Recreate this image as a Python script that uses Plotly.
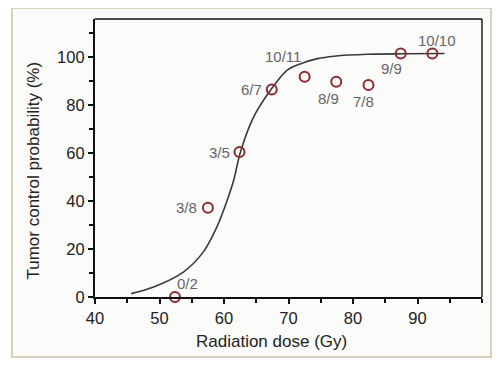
import plotly.graph_objects as go

# observed data points
dose = [52.4, 57.5, 62.4, 67.4, 72.5, 77.4, 82.4, 87.4, 92.3]
tcp = [0, 37.2, 60.4, 86.4, 91.7, 89.7, 88.3, 101.4, 101.4]
labels = ["0/2", "3/8", "3/5", "6/7", "10/11", "8/9", "7/8", "9/9", "10/10"]

# fitted curve
curve_dose = [45.6, 49.1, 53.7, 56.8, 58.9, 60.5, 61.5, 62.55, 64.6, 67.2, 69.8, 71.9, 74.5, 77.1, 82.3, 88.0, 94.2]
curve_tcp = [1.4, 4.2, 10.4, 18.8, 29.2, 40.3, 48.6, 60.4, 75.0, 86.1, 94.5, 97.2, 99.3, 100.3, 101.1, 101.3, 101.4]

x_ticks = [40, 50, 60, 70, 80, 90]
y_ticks = [0, 20, 40, 60, 80, 100]

# label pixel offsets (style): dx right, dy up
label_dx = [13, -21, -20, -20, -22, -8, -5, -9, 5]
label_dy = [14, 0, 0, 0, 20, -17, -16, -15, 13]

FONT = "Liberation Sans, Arial, sans-serif"
RED = "#8c2a2e"

# page has an 8px body margin; work in page pixels and shift
OFF = 8
W, H = 500 - OFF, 368 - OFF
L, R, T, B = 95, 482, 19, 297  # page pixel plot area
def px(xp):
    return (xp - L) / (R - L)
def py(yp):
    return (B - yp) / (B - T)

fig = go.Figure()
fig.add_trace(go.Scatter(x=curve_dose, y=curve_tcp, mode="lines",
                         line=dict(color="#3a3a3a", width=1.6, shape="spline", smoothing=0.8),
                         hoverinfo="skip", showlegend=False))
fig.add_trace(go.Scatter(x=dose, y=tcp, mode="markers",
                         marker=dict(symbol="circle-open", size=10, color=RED,
                                     line=dict(color=RED, width=2)),
                         cliponaxis=False, showlegend=False))

shapes = [
    dict(type="rect", xref="paper", yref="paper", x0=px(12), x1=px(491), y0=py(357), y1=py(8),
         line=dict(color="#d8d0b9", width=2), fillcolor="#fbfbf9", layer="below"),
    dict(type="line", xref="paper", yref="paper", x0=0, x1=1, y0=1, y1=1,
         line=dict(color="#111111", width=1.4)),
    dict(type="line", xref="paper", yref="paper", x0=1, x1=1, y0=0, y1=1,
         line=dict(color="#111111", width=1.4)),
]

annotations = [
    dict(text="Radiation dose (Gy)", xref="paper", yref="paper", x=px(271.5), y=py(341),
         showarrow=False, font=dict(size=17, color="#222222"), xanchor="center", yanchor="middle"),
    dict(text="Tumor control probability (%)", xref="paper", yref="paper", x=px(33.5), y=py(171),
         showarrow=False, textangle=-90, font=dict(size=17, color="#222222"),
         xanchor="center", yanchor="middle"),
]
for xd, yd, lab, dx, dy in zip(dose, tcp, labels, label_dx, label_dy):
    annotations.append(dict(text=lab, x=xd, y=yd, xref="x", yref="y", showarrow=False,
                            xshift=dx, yshift=dy, xanchor="center", yanchor="middle",
                            font=dict(family=FONT, size=15, color="#666666")))

fig.update_layout(
    width=W, height=H,
    margin=dict(l=L - OFF, r=500 - R, t=T - OFF, b=368 - B, autoexpand=False),
    paper_bgcolor="white", plot_bgcolor="#fbfbf9",
    font=dict(family=FONT, color="#222222"),
    shapes=shapes,
    annotations=annotations,
    xaxis=dict(range=[40, 100], tickvals=x_ticks, ticks="outside", ticklen=5, tickwidth=1.5,
               tickcolor="#111111", showline=True, linewidth=2.2, linecolor="#111111",
               showgrid=False, zeroline=False, tickfont=dict(size=16.5, color="#222222"),
               automargin=False,
               minor=dict(dtick=5, ticks="outside", ticklen=4, tickwidth=1.5, tickcolor="#111111")),
    yaxis=dict(range=[0, 115.8], tickvals=y_ticks, ticks="outside", ticklen=5, tickwidth=1.5,
               tickcolor="#111111", showline=True, linewidth=2.2, linecolor="#111111",
               showgrid=False, zeroline=False, tickfont=dict(size=16.5, color="#222222"),
               automargin=False,
               minor=dict(dtick=10, ticks="outside", ticklen=4, tickwidth=1.5, tickcolor="#111111")),
)

fig.write_html("out.html")
